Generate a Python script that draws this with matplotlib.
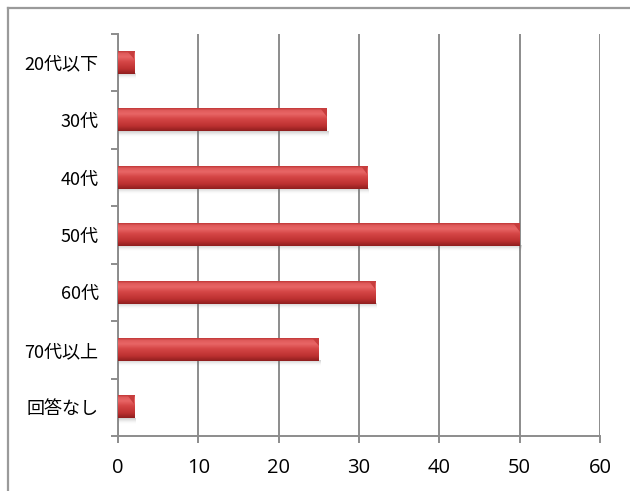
import numpy as np
import matplotlib
matplotlib.use("Agg")
import matplotlib.pyplot as plt
from matplotlib.lines import Line2D
from matplotlib.patches import Polygon

plt.rcParams['font.family'] = ['Noto Sans CJK JP', 'DejaVu Sans']

# Respondents by age group
categories = ["20代以下", "30代", "40代", "50代", "60代", "70代以上", "回答なし"]
counts = [2, 26, 31, 50, 32, 25, 2]
x_ticks = [0, 10, 20, 30, 40, 50, 60]

W, H = 630, 491
fig = plt.figure(figsize=(W / 100, H / 100), dpi=100)
ax = fig.add_axes([118 / W, 55 / H, 482 / W, 402 / H])

n = len(categories)
ypos = np.arange(n)[::-1]          # first category at the top
bar_h = 0.39

# vertical shading for the cylinder-like bars (top -> bottom)
stops = np.array([0.0, 0.10, 0.25, 0.45, 0.78, 1.0])
cols = np.array([
    [0.76, 0.22, 0.22],
    [0.88, 0.36, 0.36],
    [0.91, 0.40, 0.40],
    [0.84, 0.28, 0.28],
    [0.74, 0.19, 0.19],
    [0.56, 0.12, 0.12],
])
t = np.linspace(0, 1, 64)
grad = np.stack([np.interp(t, stops, cols[:, k]) for k in range(3)], axis=1)
grad_img = grad[:, None, :]

# soft shadow underneath
sh_t = np.linspace(0, 1, 32)
shadow = np.zeros((32, 1, 4))
shadow[:, 0, :3] = 0.45
shadow[:, 0, 3] = 0.35 * (1 - sh_t) ** 1.5

for y, v in zip(ypos, counts):
    top = y + bar_h / 2
    bot = y - bar_h / 2
    ax.imshow(shadow, extent=[0.15, v + 0.25, bot - 0.09, bot + 0.005],
              aspect='auto', interpolation='bilinear', origin='upper', zorder=2)
    ax.imshow(grad_img, extent=[0, v, bot, top], aspect='auto',
              interpolation='bilinear', origin='upper', zorder=3)
    # bevelled end cap
    cap = Polygon([(v - 0.7, top), (v, top), (v, top - 0.35 * bar_h)],
                  closed=True, facecolor=(0.78, 0.24, 0.24), edgecolor='none',
                  linewidth=0, antialiased=True, zorder=4)
    ax.add_patch(cap)

ax.set_xlim(0, 60)
ax.set_ylim(-0.5, n - 0.5)
ax.set_aspect('auto')

grid_c = '#8c8c8c'
ax.set_xticks(x_ticks)
ax.set_xticklabels([str(v) for v in x_ticks], fontsize=14.5,
                   family=['Open Sans', 'DejaVu Sans'])
ax.xaxis.grid(True, color=grid_c, linewidth=1.4)
ax.set_axisbelow(True)

ax.set_yticks(ypos)
ax.set_yticklabels(categories, fontsize=13)
ax.set_yticks(np.arange(n + 1) - 0.5, minor=True)
ax.tick_params(axis='y', which='major', length=0, pad=14)
ax.tick_params(axis='y', which='minor', length=5, width=1.4, color=grid_c)
ax.tick_params(axis='x', which='major', length=5, width=1.4, color=grid_c, pad=11)

for side in ['top', 'right']:
    ax.spines[side].set_visible(False)
for side in ['left', 'bottom']:
    ax.spines[side].set_color(grid_c)
    ax.spines[side].set_linewidth(1.4)

# chart-area frame
fx = 8 / W
fy = 1 - 8 / H
fig.add_artist(Line2D([fx, 1], [fy, fy], transform=fig.transFigure,
                      color='#9a9a9a', linewidth=1.6))
fig.add_artist(Line2D([fx, fx], [0, fy], transform=fig.transFigure,
                      color='#9a9a9a', linewidth=1.6))

fig.savefig('out.png', dpi=100, facecolor='white')
